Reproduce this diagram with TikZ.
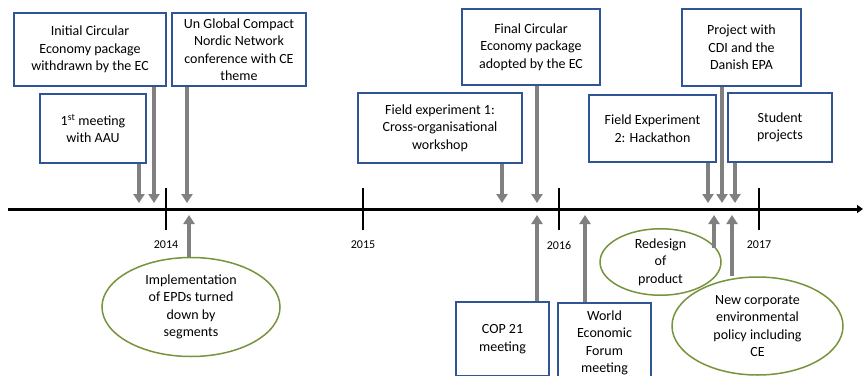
\documentclass[tikz,border=0pt]{standalone}
\usepackage{fontspec}
\setmainfont{Carlito}
\usetikzlibrary{arrows.meta,shapes.geometric}
\definecolor{boxblue}{RGB}{47,85,151}
\definecolor{ovalgreen}{RGB}{119,147,60}
\definecolor{arrowgrey}{RGB}{128,128,128}
\begin{document}
\begin{tikzpicture}[x=1pt,y=-1pt,
  event/.style={draw=boxblue, line width=1.5pt, fill=white, align=center,
    inner sep=0pt, font=\fontsize{14}{17.5}\selectfont},
  oval/.style={ellipse, draw=ovalgreen, line width=1.5pt, fill=white, align=center,
    inner sep=0pt, font=\fontsize{14}{17.5}\selectfont},
  evarrow/.style={draw=arrowgrey, line width=3.5pt,
    -{Triangle[width=11pt,length=9pt]}},
  timeline/.style={draw=black, line width=3pt, -{Triangle[width=8pt,length=6pt]}},
  tick/.style={draw=black, line width=1.5pt},
  year/.style={font=\fontsize{12}{14}\selectfont}]
\useasboundingbox (0,0) rectangle (864,375);
\clip (0,0) rectangle (864,375);

% timeline with year ticks
\coordinate (tl0) at (8,209);
\coordinate (tl1) at (863,209);
\draw[timeline] (tl0) -- (tl1);
\foreach \x/\yr in {166/2014, 363/2015, 559/2016, 759/2017}{
  \draw[tick] (\x,188) -- (\x,230);
  \node[year] (y\yr) at (\x,245) {\yr};
}

% events above the line
\node[event, minimum width=152pt, minimum height=73pt] (init) at (90,49.5)
  {Initial Circular\\Economy package\\withdrawn by the EC};
\node[event, minimum width=106pt, minimum height=69pt] (aau) at (93,128.5)
  {1\textsuperscript{st} meeting\\with AAU};
\node[event, minimum width=134pt, minimum height=73pt] (ungc) at (239,49.5)
  {Un Global Compact\\Nordic Network\\conference with CE\\theme};
\node[event, minimum width=138pt, minimum height=76pt] (final) at (531,47)
  {Final Circular\\Economy package\\adopted by the EC};
\node[event, minimum width=164pt, minimum height=70pt] (fe1) at (440,128)
  {Field experiment 1:\\Cross-organisational\\workshop};
\node[event, minimum width=127pt, minimum height=67pt] (fe2) at (652.5,128.5)
  {Field Experiment\\2: Hackathon};
\node[event, minimum width=119pt, minimum height=77pt] (cdi) at (741.5,47.5)
  {Project with\\CDI and the\\Danish EPA};
\node[event, minimum width=104pt, minimum height=69pt] (stud) at (780,127.5)
  {Student\\projects};

% events below the line
\node[oval, minimum width=178pt, minimum height=99pt] (epd) at (191,307)
  {Implementation\\of EPDs turned\\down by\\segments};
\node[event, minimum width=93pt, minimum height=74pt] (cop) at (502.5,339)
  {COP 21\\meeting};
\node[event, minimum width=93pt, minimum height=80pt, anchor=north] (wef) at (604.5,302)
  {World\\Economic\\Forum\\meeting};
\node[oval, minimum width=121pt, minimum height=62pt] (redes) at (660.5,262)
  {Redesign\\of\\product};
\node[oval, minimum width=171pt, minimum height=98pt] (corp) at (757.5,326)
  {New corporate\\environmental\\policy including\\CE};

% arrow end points on the timeline
\coordinate (d1) at (139,203);
\coordinate (d2) at (154,203);
\coordinate (d3) at (187,203);
\coordinate (d4) at (502,203);
\coordinate (d5) at (537,203);
\coordinate (d6) at (708,203);
\coordinate (d7) at (722,203);
\coordinate (d8) at (735,203);
\coordinate (u1) at (189,215);
\coordinate (u2) at (537,215);
\coordinate (u3) at (585,215);
\coordinate (u4) at (714,215);
\coordinate (u5) at (732,215);

% downward arrows
\draw[evarrow] (aau.south -| d1) -- (d1);
\draw[evarrow] (init.south -| d2) -- (d2);
\draw[evarrow] (ungc.south -| d3) -- (d3);
\draw[evarrow] (fe1.south -| d4) -- (d4);
\draw[evarrow] (final.south -| d5) -- (d5);
\draw[evarrow] (fe2.south -| d6) -- (d6);
\draw[evarrow] (cdi.south -| d7) -- (d7);
\draw[evarrow] (stud.south -| d8) -- (d8);

% upward arrows
\draw[evarrow] (epd.north -| u1) -- (u1);
\draw[evarrow] (cop.north -| u2) -- (u2);
\draw[evarrow] (wef.north -| u3) -- (u3);
\draw[evarrow] (redes.14 -| u4) -- (u4);
\draw[evarrow] (corp.north -| u5) -- (u5);
\end{tikzpicture}
\end{document}
